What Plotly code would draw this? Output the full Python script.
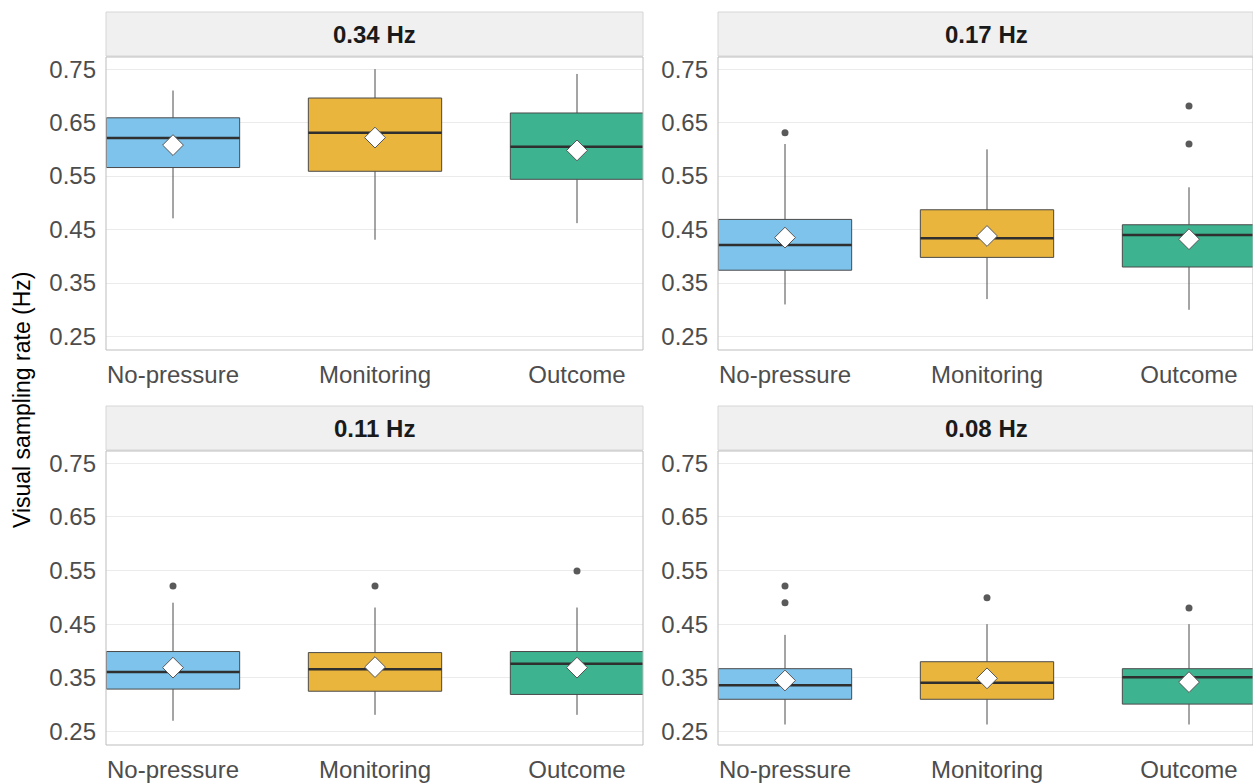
import plotly.graph_objects as go

# ---------------- data ----------------
conditions = ["No-pressure", "Monitoring", "Outcome"]
frequencies = ["0.34 Hz", "0.17 Hz", "0.11 Hz", "0.08 Hz"]

# one inner list per facet (order of `frequencies`), one value per condition
q1 = [[0.566, 0.559, 0.544],
      [0.374, 0.398, 0.380],
      [0.329, 0.325, 0.319],
      [0.310, 0.310, 0.301]]
median = [[0.621, 0.631, 0.605],
          [0.421, 0.434, 0.440],
          [0.361, 0.366, 0.376],
          [0.336, 0.341, 0.351]]
q3 = [[0.659, 0.696, 0.668],
      [0.469, 0.487, 0.459],
      [0.399, 0.397, 0.399],
      [0.367, 0.380, 0.367]]
lower_whisker = [[0.471, 0.431, 0.462],
                 [0.310, 0.320, 0.300],
                 [0.270, 0.281, 0.281],
                 [0.263, 0.263, 0.263]]
upper_whisker = [[0.710, 0.750, 0.741],
                 [0.610, 0.600, 0.529],
                 [0.490, 0.481, 0.481],
                 [0.430, 0.450, 0.450]]
means = [[0.608, 0.622, 0.598],
         [0.435, 0.438, 0.432],
         [0.369, 0.370, 0.369],
         [0.345, 0.349, 0.342]]
outliers = [[[], [], []],
            [[0.631], [], [0.681, 0.610]],
            [[0.521], [0.521], [0.549]],
            [[0.521, 0.490], [0.499], [0.480]]]

y_ticks = [0.25, 0.35, 0.45, 0.55, 0.65, 0.75]
y_tick_labels = ["0.25", "0.35", "0.45", "0.55", "0.65", "0.75"]

# ---------------- style ----------------
W, H = 1253, 784
fills = ["#7DC3EB", "#EAB53D", "#3DB390"]
box_width = 0.66
positions = [1, 2, 3]
font_family = "Liberation Sans, Arial, sans-serif"

# panel pixel geometry (left, right, top, bottom)
panels = [(106, 643, 57, 350), (718, 1253, 57, 350),
          (106, 643, 451, 745), (718, 1253, 451, 745)]
strip_h = 44
px_per_unit = 202.0
first_offset = 67.0

fig = go.Figure()

for p, (l, r, t, b) in enumerate(panels):
    sfx = "" if p == 0 else str(p + 1)
    xa, ya = "x" + sfx, "y" + sfx
    for i, cond in enumerate(conditions):
        fig.add_trace(go.Box(
            x=[positions[i]], q1=[q1[p][i]], median=[median[p][i]], q3=[q3[p][i]],
            lowerfence=[lower_whisker[p][i]], upperfence=[upper_whisker[p][i]],
            width=box_width, whiskerwidth=0, boxpoints=False,
            fillcolor=fills[i], line=dict(color="#4a4a4a", width=1),
            xaxis=xa, yaxis=ya, showlegend=False, hoverinfo="skip"))
        # thicker median line
        fig.add_trace(go.Scatter(
            x=[positions[i] - box_width / 2, positions[i] + box_width / 2],
            y=[median[p][i], median[p][i]], mode="lines",
            line=dict(color="#2f2f2f", width=2.5),
            xaxis=xa, yaxis=ya, showlegend=False, hoverinfo="skip"))
        if outliers[p][i]:
            fig.add_trace(go.Scatter(
                x=[positions[i]] * len(outliers[p][i]), y=outliers[p][i], mode="markers",
                marker=dict(color="#5a5a5a", size=7),
                xaxis=xa, yaxis=ya, showlegend=False, hoverinfo="skip"))
    fig.add_trace(go.Scatter(
        x=positions, y=means[p], mode="markers",
        marker=dict(symbol="diamond", size=16, color="white",
                    line=dict(color="#555555", width=1)),
        xaxis=xa, yaxis=ya, showlegend=False, hoverinfo="skip"))

    x0 = 1 - first_offset / px_per_unit
    x1 = x0 + (r - l) / px_per_unit
    axis_font = dict(family=font_family, size=24, color="#4d4d4d")
    fig.layout["xaxis" + sfx] = dict(
        domain=[l / W, min(r / W, 1.0)], range=[x0, x1], anchor=ya,
        tickvals=positions, ticktext=conditions, showgrid=False, zeroline=False,
        showline=False, ticks="", tickfont=axis_font, ticklabelstandoff=8,
        fixedrange=True)
    fig.layout["yaxis" + sfx] = dict(
        domain=[1 - b / H, 1 - t / H], range=[0.2248, 0.7727], anchor=xa,
        tickvals=y_ticks, ticktext=y_tick_labels, showgrid=True,
        gridcolor="#EBEBEB", gridwidth=1, zeroline=False, showline=False,
        ticks="", tickfont=axis_font, ticklabelstandoff=9, fixedrange=True)

    # panel border
    fig.add_shape(type="rect", xref=xa + " domain", yref=ya + " domain",
                  x0=0, x1=1, y0=0, y1=1, line=dict(color="#BDBDBD", width=1),
                  fillcolor="rgba(0,0,0,0)", layer="above")
    # strip
    fig.add_shape(type="rect", xref="paper", yref="paper",
                  x0=l / W, x1=min(r / W, 1.0), y0=1 - (t - 1) / H, y1=1 - (t - 1 - strip_h) / H,
                  line=dict(color="#D6D6D6", width=1), fillcolor="#F0F0F0", layer="below")
    fig.add_annotation(x=(l + (l + 537)) / 2 / W, y=1 - (t - 1 - strip_h / 2) / H,
                       xref="paper", yref="paper", text="<b>" + frequencies[p] + "</b>",
                       showarrow=False, font=dict(family=font_family, size=24, color="#1a1a1a"),
                       xanchor="center", yanchor="middle")

fig.add_annotation(x=22 / W, y=1 - 400 / H, xref="paper", yref="paper",
                   text="Visual sampling rate (Hz)", textangle=-90, showarrow=False,
                   font=dict(family=font_family, size=23, color="#000000"),
                   xanchor="center", yanchor="middle")

fig.update_layout(width=W, height=H, margin=dict(l=0, r=0, t=0, b=0),
                  paper_bgcolor="white", plot_bgcolor="white")

fig.write_html("out.html", config={"displayModeBar": False, "staticPlot": True},
               post_script="document.body.style.margin='0';document.body.style.overflow='hidden';")
